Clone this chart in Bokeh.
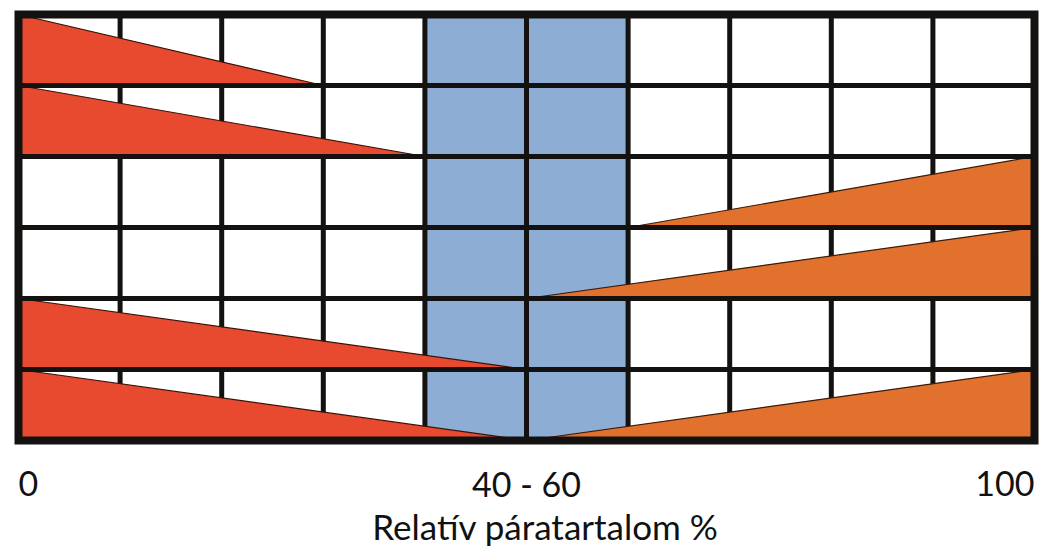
from bokeh.plotting import figure
from bokeh.models import Range1d, ColumnDataSource
from bokeh.core.properties import value
from bokeh.embed import file_html
from bokeh.resources import INLINE

# ---- data ----
n_rows = 6
x_grid = [10, 20, 30, 40, 50, 60, 70, 80, 90]
y_grid = [1, 2, 3, 4, 5]
band_low = [40]
band_high = [60]
# red (dry side) wedges: row index counted from bottom, and the % where they end
red_rows = [5, 4, 1, 0]
red_end = [30, 40, 50, 50]
# orange (humid side) wedges: row index and the % where they start
orange_rows = [3, 2, 0]
orange_start = [60, 50, 50]
tick_values = [0, 50, 100]
tick_labels = ["0", "40 - 60", "100"]
tick_align = ["left", "center", "right"]
axis_title = "Relatív páratartalom %"

# ---- style / layout ----
RED = "#e84a30"
ORANGE = "#e1712d"
BLUE = "#8eadd5"
INK = "#141210"
FONT = "Lato"
W, H = 1041, 553
PAD_L, PAD_R, PAD_T, PAD_B = 18, 7, 14, 113   # pixel room around the 0-100 x 0-6 box
px_x = (W - PAD_L - PAD_R) / 100.0
px_y = (H - PAD_T - PAD_B) / float(n_rows)

p = figure(width=W, height=H, output_backend="svg", toolbar_location=None,
           x_range=Range1d(-PAD_L / px_x, 100 + PAD_R / px_x),
           y_range=Range1d(-PAD_B / px_y, n_rows + PAD_T / px_y),
           x_axis_type=None, y_axis_type=None, min_border=0)
p.background_fill_color = "white"
p.border_fill_color = "white"
p.outline_line_color = None

# optimal band
p.quad(left=band_low, right=band_high, bottom=[0], top=[n_rows],
       fill_color=BLUE, line_color=None)

# vertical grid lines (under the wedges)
p.segment(x0=x_grid, y0=[0] * len(x_grid), x1=x_grid, y1=[n_rows] * len(x_grid),
          line_color=INK, line_width=5)

# wedges
red_src = ColumnDataSource(dict(
    xs=[[0, 0, e] for e in red_end],
    ys=[[r + 1, r, r] for r in red_rows]))
p.patches("xs", "ys", source=red_src, fill_color=RED, line_color="#3a1208", line_width=1.2)

orange_src = ColumnDataSource(dict(
    xs=[[s, 100, 100] for s in orange_start],
    ys=[[r, r, r + 1] for r in orange_rows]))
p.patches("xs", "ys", source=orange_src, fill_color=ORANGE, line_color="#3a1a08", line_width=1.2)

# horizontal grid lines (over the wedges)
p.segment(x0=[0] * len(y_grid), y0=y_grid, x1=[100] * len(y_grid), y1=y_grid,
          line_color=INK, line_width=5)

# outer frame
p.quad(left=[0], right=[100], bottom=[0], top=[n_rows], fill_color=None,
       line_color=INK, line_width=8, line_join="miter")

# tick labels
for v, t, a in zip(tick_values, tick_labels, tick_align):
    p.text(x=[v], y=[0], text=[t], y_offset=43, text_align=a,
           text_baseline="alphabetic", text_font=value(FONT),
           text_font_size="34px", text_color="#111111")

p.text(x=[50], y=[0], text=[axis_title], x_offset=19, y_offset=85,
       text_align="center", text_baseline="alphabetic", text_font=value(FONT),
       text_font_size="35px", text_color="#111111")

open("out.html", "w").write(file_html(p, INLINE))
